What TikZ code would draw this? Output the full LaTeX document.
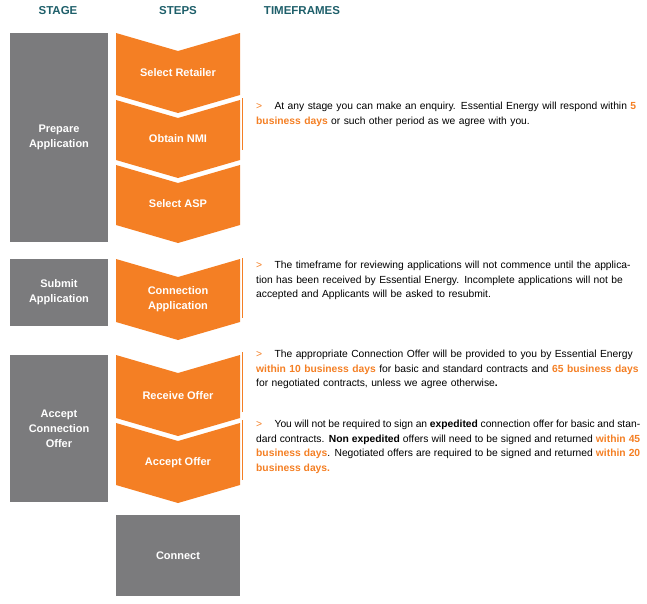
\documentclass[tikz,border=0pt]{standalone}
\usepackage{fontspec}
\setmainfont{Liberation Sans}
\definecolor{eeorange}{HTML}{F47F24}
\definecolor{eegrey}{HTML}{7B7B7D}
\definecolor{eeteal}{HTML}{1E5F6A}
\newcommand{\hl}[1]{\textcolor{eeorange}{\textbf{#1}}}
\newcommand{\gt}{\textcolor{eeorange}{>}\hspace{1.2em}}
\begin{document}
\begin{tikzpicture}[x=1pt,y=-1pt,
	head/.style={eeteal, font=\bfseries\fontsize{11.5}{13}\selectfont},
	stagebox/.style={fill=eegrey, text=white, align=center, font=\bfseries\fontsize{11}{15}\selectfont},
	steptext/.style={text=white, align=center, font=\bfseries\fontsize{11}{15}\selectfont},
	note/.style={anchor=north west, text width=384pt, inner sep=0pt, font=\fontsize{10.3}{14.5}\selectfont},
	bar/.style={eeorange, line width=0.8pt}]
	\useasboundingbox (0,0) rectangle (647,603);
	\node[head] (h1) at (58,11) {STAGE};
	\node[head] (h2) at (178,11) {STEPS};
	\node[head] (h3) at (302,11) {TIMEFRAMES};
	% stages
	\node[stagebox, minimum width=98pt, minimum height=209pt] (prep) at (59,137.5) {Prepare\\Application};
	\node[stagebox, minimum width=98pt, minimum height=67pt] (sub) at (59,292.5) {Submit\\Application};
	\node[stagebox, minimum width=98pt, minimum height=147pt] (acc) at (59,428.5) {Accept\\Connection\\Offer};
	% steps
	\foreach \t/\b/\lab/\nm in {33/95/Select Retailer/s1, 100/160/Obtain NMI/s2, 165/225/Select ASP/s3,
		259/322/{Connection\\Application}/s4, 355/418/Receive Offer/s5, 423/485/Accept Offer/s6} {
		\fill[eeorange] (116,\t) -- (178,\t+18) -- (240,\t) -- (240,\b) -- (178,\b+18) -- (116,\b) -- cycle;
		\node[steptext] (\nm) at (178,{(\t+\b)/2+9}) {\lab};
	}
	\node[stagebox, minimum width=124pt, minimum height=81pt] (conn) at (178,555.5) {Connect};
	% timeframes
	\draw[bar] (242,98) -- (242,150);
	\node[note] (n1) at (256,102) {\gt At any stage you can make an enquiry. Essential Energy will respond within \hl{5 business days} or such other period as we agree with you.};
	\draw[bar] (242,258) -- (242,318);
	\node[note] (n2) at (256,261) {\gt The timeframe for reviewing applications will not commence until the application has been received by Essential Energy. Incomplete applications will not be accepted and Applicants will be asked to resubmit.};
	\draw[bar] (242,352) -- (242,412);
	\node[note] (n3) at (256,350) {\gt The appropriate Connection Offer will be provided to you by Essential Energy \hl{within 10 business days} for basic and standard contracts and \hl{65 business days} for negotiated contracts, unless we agree otherwise\textbf{.}};
	\draw[bar] (242,420) -- (242,480);
	\node[note, align=justify] (n4) at (256,420) {\gt You will not be required to sign an \textbf{expedited} connection offer for basic and standard contracts. \textbf{Non expedited} offers will need to be signed and returned \hl{within 45 business days}. Negotiated offers are required to be signed and returned \hl{within 20 business days.}};
\end{tikzpicture}
\end{document}
